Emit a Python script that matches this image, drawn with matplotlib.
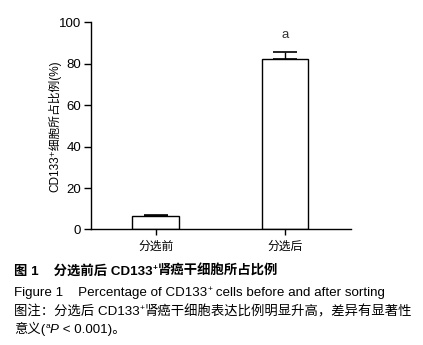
import numpy as np
import matplotlib
matplotlib.use('Agg')
import matplotlib.pyplot as plt

plt.rcParams['font.family'] = ['Liberation Sans', 'Noto Sans CJK SC', 'DejaVu Sans']
plt.rcParams['axes.unicode_minus'] = False

# 数据
groups = ['分选前', '分选后']
means = [6.4, 82.2]
sems = [0.5, 3.3]
sig_marks = ['', 'a']
y_ticks = [0, 20, 40, 60, 80, 100]

fig = plt.figure(figsize=(4.23, 3.45), dpi=100)
ax = fig.add_axes([0.215, 0.335, 0.615, 0.600])

x = np.arange(len(groups))
ax.bar(x, means, width=0.36, color='white', edgecolor='black', linewidth=1.0, zorder=2)
ax.errorbar(x, means, yerr=[np.zeros(len(sems)), sems], fmt='none', ecolor='black',
            elinewidth=1.0, capsize=8.3, capthick=1.2, zorder=3)
for xi, m, s, mark in zip(x, means, sems, sig_marks):
    if mark:
        ax.text(xi, 93.7, mark, ha='center', va='center', fontsize=9.5, color='#333333')

ax.set_xlim(-0.5, 1.51)
ax.set_ylim(0, 100)
ax.set_yticks(y_ticks)
ax.set_xticks(x)
ax.set_xticklabels(groups, fontsize=8.5)
ax.tick_params(axis='y', labelsize=9.5, length=5, width=1, direction='out', pad=2)
ax.tick_params(axis='x', length=4, width=1, direction='out', pad=4)
ax.set_ylabel('CD133⁺细胞所占比例(%)', fontsize=8.5, labelpad=-1.5)
for sp in ['top', 'right']:
    ax.spines[sp].set_visible(False)
for sp in ['left', 'bottom']:
    ax.spines[sp].set_linewidth(1.0)

# 图注（按片段拼接，便于上标和斜体）
renderer = fig.canvas.get_renderer()

def draw_runs(x0, y0, runs, size=9.6):
    xp = x0 * 423
    for txt, opts in runs:
        dy = opts.pop('dy', 0)
        fs = opts.pop('fs', size)
        t = fig.text(xp / 423, y0 + dy / 345, txt, fontsize=fs, va='baseline', ha='left', **opts)
        bb = t.get_window_extent(renderer=renderer)
        xp += bb.width

draw_runs(14 / 423, 1 - 275 / 345, [
    ('图 1    分选前后 CD133', {'fontweight': 'bold'}),
    ('+', {'fontweight': 'bold', 'fs': 6, 'dy': 5}),
    ('肾癌干细胞所占比例', {'fontweight': 'bold'}),
])
draw_runs(14 / 423, 1 - 296 / 345, [
    ('Figure 1    Percentage of CD133', {}),
    ('+', {'fs': 6, 'dy': 5}),
    (' cells before and after sorting', {}),
])
draw_runs(14 / 423, 1 - 315 / 345, [
    ('图注：分选后 CD133', {}),
    ('+', {'fs': 6, 'dy': 5}),
    ('肾癌干细胞表达比例明显升高，差异有显著性', {}),
])
draw_runs(14 / 423, 1 - 333 / 345, [
    ('意义(', {}),
    ('a', {'fs': 6, 'dy': 5}),
    ('P', {'fontstyle': 'italic'}),
    (' < 0.001)。', {}),
])

fig.savefig('out.png', dpi=100)
